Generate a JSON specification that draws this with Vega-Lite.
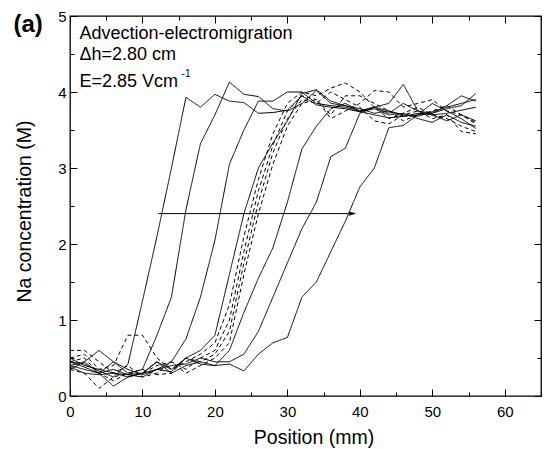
{
 "$schema": "https://vega.github.io/schema/vega-lite/v6.json",
 "width": 471,
 "height": 380,
 "autosize": {"type": "none"},
 "padding": {"left": 70, "top": 16, "right": 4, "bottom": 53},
 "background": "white",
 "config": {
  "view": {"stroke": "black", "strokeWidth": 1.3},
  "font": "Liberation Sans",
  "axis": {"domain": false, "grid": false, "tickColor": "black", "tickWidth": 1, "labelColor": "black", "titleColor": "black", "labelFont": "Liberation Sans", "titleFont": "Liberation Sans", "labelFontSize": 15, "titleFontSize": 19.5, "titleFontWeight": "normal", "labelFlush": false, "labelOverlap": false}
 },
 "resolve": {"axis": {"x": "independent", "y": "independent"}},
 "datasets": {
  "profiles": [
   {"s":"A","k":"A","x":0,"y":0.45},{"s":"A","k":"A","x":2,"y":0.42},{"s":"A","k":"A","x":4,"y":0.33},{"s":"A","k":"A","x":6,"y":0.25},{"s":"A","k":"A","x":8,"y":0.42},{"s":"A","k":"A","x":10,"y":1.25},{"s":"A","k":"A","x":12,"y":2.1},{"s":"A","k":"A","x":14,"y":3.0},{"s":"A","k":"A","x":16,"y":3.93},{"s":"A","k":"A","x":18,"y":3.8},{"s":"A","k":"A","x":20,"y":3.97},{"s":"A","k":"A","x":22,"y":3.88},{"s":"A","k":"A","x":24,"y":3.86},{"s":"A","k":"A","x":26,"y":3.72},{"s":"A","k":"A","x":28,"y":3.73},{"s":"A","k":"A","x":30,"y":3.76},{"s":"A","k":"A","x":32,"y":3.95},{"s":"A","k":"A","x":34,"y":3.83},{"s":"A","k":"A","x":36,"y":3.8},{"s":"A","k":"A","x":38,"y":3.78},{"s":"A","k":"A","x":40,"y":3.74},{"s":"A","k":"A","x":42,"y":3.7},{"s":"A","k":"A","x":44,"y":3.66},{"s":"A","k":"A","x":46,"y":3.68},{"s":"A","k":"A","x":48,"y":3.72},{"s":"A","k":"A","x":50,"y":3.7},{"s":"A","k":"A","x":52,"y":3.72},{"s":"A","k":"A","x":54,"y":3.76},{"s":"A","k":"A","x":56,"y":3.8},
   {"s":"B","k":"A","x":0,"y":0.35},{"s":"B","k":"A","x":2,"y":0.45},{"s":"B","k":"A","x":4,"y":0.6},{"s":"B","k":"A","x":6,"y":0.45},{"s":"B","k":"A","x":8,"y":0.3},{"s":"B","k":"A","x":10,"y":0.35},{"s":"B","k":"A","x":12,"y":0.8},{"s":"B","k":"A","x":14,"y":1.3},{"s":"B","k":"A","x":16,"y":2.45},{"s":"B","k":"A","x":18,"y":3.32},{"s":"B","k":"A","x":20,"y":3.7},{"s":"B","k":"A","x":22,"y":4.13},{"s":"B","k":"A","x":24,"y":3.97},{"s":"B","k":"A","x":26,"y":3.94},{"s":"B","k":"A","x":28,"y":3.78},{"s":"B","k":"A","x":30,"y":3.75},{"s":"B","k":"A","x":32,"y":3.85},{"s":"B","k":"A","x":34,"y":4.02},{"s":"B","k":"A","x":36,"y":3.85},{"s":"B","k":"A","x":38,"y":3.82},{"s":"B","k":"A","x":40,"y":3.78},{"s":"B","k":"A","x":42,"y":3.72},{"s":"B","k":"A","x":44,"y":3.75},{"s":"B","k":"A","x":46,"y":3.7},{"s":"B","k":"A","x":48,"y":3.68},{"s":"B","k":"A","x":50,"y":3.74},{"s":"B","k":"A","x":52,"y":3.8},{"s":"B","k":"A","x":54,"y":3.85},{"s":"B","k":"A","x":56,"y":3.9},
   {"s":"C","k":"A","x":0,"y":0.4},{"s":"C","k":"A","x":2,"y":0.35},{"s":"C","k":"A","x":4,"y":0.3},{"s":"C","k":"A","x":6,"y":0.13},{"s":"C","k":"A","x":8,"y":0.25},{"s":"C","k":"A","x":10,"y":0.3},{"s":"C","k":"A","x":12,"y":0.35},{"s":"C","k":"A","x":14,"y":0.45},{"s":"C","k":"A","x":16,"y":0.75},{"s":"C","k":"A","x":18,"y":1.3},{"s":"C","k":"A","x":20,"y":2.05},{"s":"C","k":"A","x":22,"y":3.05},{"s":"C","k":"A","x":24,"y":3.5},{"s":"C","k":"A","x":26,"y":3.88},{"s":"C","k":"A","x":28,"y":3.88},{"s":"C","k":"A","x":30,"y":4.0},{"s":"C","k":"A","x":32,"y":4.0},{"s":"C","k":"A","x":34,"y":3.85},{"s":"C","k":"A","x":36,"y":3.82},{"s":"C","k":"A","x":38,"y":3.8},{"s":"C","k":"A","x":40,"y":3.74},{"s":"C","k":"A","x":42,"y":3.78},{"s":"C","k":"A","x":44,"y":3.7},{"s":"C","k":"A","x":46,"y":3.72},{"s":"C","k":"A","x":48,"y":3.65},{"s":"C","k":"A","x":50,"y":3.6},{"s":"C","k":"A","x":52,"y":3.7},{"s":"C","k":"A","x":54,"y":3.6},{"s":"C","k":"A","x":56,"y":3.55},
   {"s":"D","k":"A","x":0,"y":0.38},{"s":"D","k":"A","x":2,"y":0.3},{"s":"D","k":"A","x":4,"y":0.28},{"s":"D","k":"A","x":6,"y":0.3},{"s":"D","k":"A","x":8,"y":0.25},{"s":"D","k":"A","x":10,"y":0.3},{"s":"D","k":"A","x":12,"y":0.45},{"s":"D","k":"A","x":14,"y":0.35},{"s":"D","k":"A","x":16,"y":0.5},{"s":"D","k":"A","x":18,"y":0.6},{"s":"D","k":"A","x":20,"y":0.8},{"s":"D","k":"A","x":22,"y":1.6},{"s":"D","k":"A","x":24,"y":2.4},{"s":"D","k":"A","x":26,"y":3.0},{"s":"D","k":"A","x":28,"y":3.33},{"s":"D","k":"A","x":30,"y":3.62},{"s":"D","k":"A","x":32,"y":3.98},{"s":"D","k":"A","x":34,"y":4.03},{"s":"D","k":"A","x":36,"y":3.88},{"s":"D","k":"A","x":38,"y":3.82},{"s":"D","k":"A","x":40,"y":3.75},{"s":"D","k":"A","x":42,"y":3.8},{"s":"D","k":"A","x":44,"y":3.72},{"s":"D","k":"A","x":46,"y":3.85},{"s":"D","k":"A","x":48,"y":3.75},{"s":"D","k":"A","x":50,"y":3.72},{"s":"D","k":"A","x":52,"y":3.78},{"s":"D","k":"A","x":54,"y":3.82},{"s":"D","k":"A","x":56,"y":3.98},
   {"s":"E","k":"A","x":0,"y":0.5},{"s":"E","k":"A","x":2,"y":0.4},{"s":"E","k":"A","x":4,"y":0.35},{"s":"E","k":"A","x":6,"y":0.3},{"s":"E","k":"A","x":8,"y":0.28},{"s":"E","k":"A","x":10,"y":0.3},{"s":"E","k":"A","x":12,"y":0.45},{"s":"E","k":"A","x":14,"y":0.3},{"s":"E","k":"A","x":16,"y":0.4},{"s":"E","k":"A","x":18,"y":0.45},{"s":"E","k":"A","x":20,"y":0.4},{"s":"E","k":"A","x":22,"y":0.6},{"s":"E","k":"A","x":24,"y":1.1},{"s":"E","k":"A","x":26,"y":1.55},{"s":"E","k":"A","x":28,"y":1.95},{"s":"E","k":"A","x":30,"y":2.55},{"s":"E","k":"A","x":32,"y":3.25},{"s":"E","k":"A","x":34,"y":3.55},{"s":"E","k":"A","x":36,"y":3.78},{"s":"E","k":"A","x":38,"y":3.85},{"s":"E","k":"A","x":40,"y":3.75},{"s":"E","k":"A","x":42,"y":3.8},{"s":"E","k":"A","x":44,"y":3.85},{"s":"E","k":"A","x":46,"y":4.1},{"s":"E","k":"A","x":48,"y":3.75},{"s":"E","k":"A","x":50,"y":3.7},{"s":"E","k":"A","x":52,"y":3.62},{"s":"E","k":"A","x":54,"y":3.7},{"s":"E","k":"A","x":56,"y":3.62},
   {"s":"F","k":"A","x":0,"y":0.4},{"s":"F","k":"A","x":2,"y":0.45},{"s":"F","k":"A","x":4,"y":0.3},{"s":"F","k":"A","x":6,"y":0.35},{"s":"F","k":"A","x":8,"y":0.28},{"s":"F","k":"A","x":10,"y":0.25},{"s":"F","k":"A","x":12,"y":0.35},{"s":"F","k":"A","x":14,"y":0.4},{"s":"F","k":"A","x":16,"y":0.42},{"s":"F","k":"A","x":18,"y":0.5},{"s":"F","k":"A","x":20,"y":0.45},{"s":"F","k":"A","x":22,"y":0.45},{"s":"F","k":"A","x":24,"y":0.55},{"s":"F","k":"A","x":26,"y":0.85},{"s":"F","k":"A","x":28,"y":1.3},{"s":"F","k":"A","x":30,"y":1.75},{"s":"F","k":"A","x":32,"y":2.2},{"s":"F","k":"A","x":34,"y":2.55},{"s":"F","k":"A","x":36,"y":3.15},{"s":"F","k":"A","x":38,"y":3.26},{"s":"F","k":"A","x":40,"y":3.72},{"s":"F","k":"A","x":42,"y":3.8},{"s":"F","k":"A","x":44,"y":3.75},{"s":"F","k":"A","x":46,"y":3.68},{"s":"F","k":"A","x":48,"y":3.7},{"s":"F","k":"A","x":50,"y":3.85},{"s":"F","k":"A","x":52,"y":3.75},{"s":"F","k":"A","x":54,"y":3.65},{"s":"F","k":"A","x":56,"y":3.52},
   {"s":"G","k":"A","x":0,"y":0.45},{"s":"G","k":"A","x":2,"y":0.38},{"s":"G","k":"A","x":4,"y":0.3},{"s":"G","k":"A","x":6,"y":0.45},{"s":"G","k":"A","x":8,"y":0.35},{"s":"G","k":"A","x":10,"y":0.28},{"s":"G","k":"A","x":12,"y":0.35},{"s":"G","k":"A","x":14,"y":0.32},{"s":"G","k":"A","x":16,"y":0.5},{"s":"G","k":"A","x":18,"y":0.42},{"s":"G","k":"A","x":20,"y":0.4},{"s":"G","k":"A","x":22,"y":0.42},{"s":"G","k":"A","x":24,"y":0.33},{"s":"G","k":"A","x":26,"y":0.55},{"s":"G","k":"A","x":28,"y":0.7},{"s":"G","k":"A","x":30,"y":0.77},{"s":"G","k":"A","x":32,"y":1.3},{"s":"G","k":"A","x":34,"y":1.5},{"s":"G","k":"A","x":36,"y":1.9},{"s":"G","k":"A","x":38,"y":2.3},{"s":"G","k":"A","x":40,"y":2.75},{"s":"G","k":"A","x":42,"y":3.0},{"s":"G","k":"A","x":44,"y":3.53},{"s":"G","k":"A","x":46,"y":3.56},{"s":"G","k":"A","x":48,"y":3.7},{"s":"G","k":"A","x":50,"y":3.72},{"s":"G","k":"A","x":52,"y":3.82},{"s":"G","k":"A","x":54,"y":3.95},{"s":"G","k":"A","x":56,"y":3.88},
   {"s":"H1","k":"B","x":0,"y":0.5},{"s":"H1","k":"B","x":2,"y":0.55},{"s":"H1","k":"B","x":4,"y":0.35},{"s":"H1","k":"B","x":6,"y":0.4},{"s":"H1","k":"B","x":8,"y":0.8},{"s":"H1","k":"B","x":10,"y":0.8},{"s":"H1","k":"B","x":12,"y":0.5},{"s":"H1","k":"B","x":14,"y":0.35},{"s":"H1","k":"B","x":16,"y":0.45},{"s":"H1","k":"B","x":18,"y":0.55},{"s":"H1","k":"B","x":20,"y":0.7},{"s":"H1","k":"B","x":22,"y":1.2},{"s":"H1","k":"B","x":24,"y":2.1},{"s":"H1","k":"B","x":26,"y":2.85},{"s":"H1","k":"B","x":28,"y":3.45},{"s":"H1","k":"B","x":30,"y":3.85},{"s":"H1","k":"B","x":32,"y":4.0},{"s":"H1","k":"B","x":34,"y":3.95},{"s":"H1","k":"B","x":36,"y":4.05},{"s":"H1","k":"B","x":38,"y":4.12},{"s":"H1","k":"B","x":40,"y":4.0},{"s":"H1","k":"B","x":42,"y":3.8},{"s":"H1","k":"B","x":44,"y":3.65},{"s":"H1","k":"B","x":46,"y":3.72},{"s":"H1","k":"B","x":48,"y":3.8},{"s":"H1","k":"B","x":50,"y":3.7},{"s":"H1","k":"B","x":52,"y":3.65},{"s":"H1","k":"B","x":54,"y":3.55},{"s":"H1","k":"B","x":56,"y":3.48},
   {"s":"H2","k":"B","x":0,"y":0.6},{"s":"H2","k":"B","x":2,"y":0.6},{"s":"H2","k":"B","x":4,"y":0.45},{"s":"H2","k":"B","x":6,"y":0.3},{"s":"H2","k":"B","x":8,"y":0.4},{"s":"H2","k":"B","x":10,"y":0.25},{"s":"H2","k":"B","x":12,"y":0.3},{"s":"H2","k":"B","x":14,"y":0.45},{"s":"H2","k":"B","x":16,"y":0.35},{"s":"H2","k":"B","x":18,"y":0.5},{"s":"H2","k":"B","x":20,"y":0.6},{"s":"H2","k":"B","x":22,"y":1.0},{"s":"H2","k":"B","x":24,"y":1.9},{"s":"H2","k":"B","x":26,"y":2.7},{"s":"H2","k":"B","x":28,"y":3.3},{"s":"H2","k":"B","x":30,"y":3.75},{"s":"H2","k":"B","x":32,"y":3.95},{"s":"H2","k":"B","x":34,"y":3.9},{"s":"H2","k":"B","x":36,"y":3.65},{"s":"H2","k":"B","x":38,"y":3.75},{"s":"H2","k":"B","x":40,"y":3.85},{"s":"H2","k":"B","x":42,"y":4.02},{"s":"H2","k":"B","x":44,"y":4.0},{"s":"H2","k":"B","x":46,"y":3.8},{"s":"H2","k":"B","x":48,"y":3.85},{"s":"H2","k":"B","x":50,"y":3.9},{"s":"H2","k":"B","x":52,"y":3.75},{"s":"H2","k":"B","x":54,"y":3.7},{"s":"H2","k":"B","x":56,"y":3.6},
   {"s":"H3","k":"B","x":0,"y":0.35},{"s":"H3","k":"B","x":2,"y":0.3},{"s":"H3","k":"B","x":4,"y":0.1},{"s":"H3","k":"B","x":6,"y":0.25},{"s":"H3","k":"B","x":8,"y":0.3},{"s":"H3","k":"B","x":10,"y":0.35},{"s":"H3","k":"B","x":12,"y":0.28},{"s":"H3","k":"B","x":14,"y":0.3},{"s":"H3","k":"B","x":16,"y":0.5},{"s":"H3","k":"B","x":18,"y":0.45},{"s":"H3","k":"B","x":20,"y":0.55},{"s":"H3","k":"B","x":22,"y":0.85},{"s":"H3","k":"B","x":24,"y":1.75},{"s":"H3","k":"B","x":26,"y":2.55},{"s":"H3","k":"B","x":28,"y":3.2},{"s":"H3","k":"B","x":30,"y":3.65},{"s":"H3","k":"B","x":32,"y":3.9},{"s":"H3","k":"B","x":34,"y":3.85},{"s":"H3","k":"B","x":36,"y":4.0},{"s":"H3","k":"B","x":38,"y":3.9},{"s":"H3","k":"B","x":40,"y":3.8},{"s":"H3","k":"B","x":42,"y":3.62},{"s":"H3","k":"B","x":44,"y":3.58},{"s":"H3","k":"B","x":46,"y":3.7},{"s":"H3","k":"B","x":48,"y":3.75},{"s":"H3","k":"B","x":50,"y":3.65},{"s":"H3","k":"B","x":52,"y":3.7},{"s":"H3","k":"B","x":54,"y":3.48},{"s":"H3","k":"B","x":56,"y":3.45},
   {"s":"H4","k":"B","x":0,"y":0.45},{"s":"H4","k":"B","x":2,"y":0.5},{"s":"H4","k":"B","x":4,"y":0.3},{"s":"H4","k":"B","x":6,"y":0.2},{"s":"H4","k":"B","x":8,"y":0.3},{"s":"H4","k":"B","x":10,"y":0.3},{"s":"H4","k":"B","x":12,"y":0.4},{"s":"H4","k":"B","x":14,"y":0.45},{"s":"H4","k":"B","x":16,"y":0.3},{"s":"H4","k":"B","x":18,"y":0.4},{"s":"H4","k":"B","x":20,"y":0.5},{"s":"H4","k":"B","x":22,"y":0.7},{"s":"H4","k":"B","x":24,"y":1.6},{"s":"H4","k":"B","x":26,"y":2.4},{"s":"H4","k":"B","x":28,"y":3.05},{"s":"H4","k":"B","x":30,"y":3.55},{"s":"H4","k":"B","x":32,"y":3.85},{"s":"H4","k":"B","x":34,"y":3.9},{"s":"H4","k":"B","x":36,"y":3.7},{"s":"H4","k":"B","x":38,"y":3.95},{"s":"H4","k":"B","x":40,"y":3.95},{"s":"H4","k":"B","x":42,"y":3.85},{"s":"H4","k":"B","x":44,"y":3.75},{"s":"H4","k":"B","x":46,"y":3.62},{"s":"H4","k":"B","x":48,"y":3.7},{"s":"H4","k":"B","x":50,"y":3.75},{"s":"H4","k":"B","x":52,"y":3.82},{"s":"H4","k":"B","x":54,"y":3.7},{"s":"H4","k":"B","x":56,"y":3.58}
  ]
 },
 "layer": [
  {
   "data": {"name": "profiles"},
   "mark": {"type": "line", "color": "black", "strokeWidth": 1},
   "encoding": {
    "x": {"field": "x", "type": "quantitative", "scale": {"domain": [0, 65], "nice": false, "zero": false},
     "axis": {"orient": "bottom", "values": [0,5,10,15,20,25,30,35,40,45,50,55,60,65], "labelExpr": "datum.value % 10 === 0 ? format(datum.value, 'd') : ''", "tickSize": {"condition": {"test": "datum.value % 10 === 0", "value": -7}, "value": -4}, "labelPadding": 15, "labelBaseline": "top", "title": "Position (mm)", "titleX": 243.5, "titleY": 47.5, "titleBaseline": "alphabetic", "titleAlign": "center"}},
    "y": {"field": "y", "type": "quantitative", "scale": {"domain": [0, 5], "nice": false, "zero": false},
     "axis": {"orient": "left", "values": [0,0.5,1,1.5,2,2.5,3,3.5,4,4.5,5], "labelExpr": "datum.value % 1 === 0 ? format(datum.value, 'd') : ''", "tickSize": {"condition": {"test": "datum.value % 1 === 0", "value": -7}, "value": -4}, "labelPadding": 11, "title": "Na concentration (M)", "titleX": -39.5, "titleY": 195, "titleBaseline": "alphabetic", "titleAlign": "center", "titleAngle": -90}},
    "detail": {"field": "s", "type": "nominal"},
    "strokeDash": {"field": "k", "type": "nominal", "scale": {"domain": ["A", "B"], "range": [[1, 0], [4, 3]]}, "legend": null}
   }
  },
  {
   "data": {"values": [{}]},
   "mark": {"type": "rule", "color": "black", "strokeWidth": 1},
   "encoding": {
    "x": {"datum": 12.2, "type": "quantitative",
     "axis": {"orient": "top", "values": [0,5,10,15,20,25,30,35,40,45,50,55,60,65], "labels": false, "title": null, "tickSize": {"condition": {"test": "datum.value % 10 === 0", "value": -7}, "value": -4}}},
    "x2": {"datum": 39.0},
    "y": {"datum": 2.4, "type": "quantitative",
     "axis": {"orient": "right", "values": [0,0.5,1,1.5,2,2.5,3,3.5,4,4.5,5], "labels": false, "title": null, "tickSize": {"condition": {"test": "datum.value % 1 === 0", "value": -7}, "value": -4}}}
   }
  },
  {
   "data": {"values": [{}]},
   "mark": {"type": "point", "shape": "M0,0L-1,-0.3L-0.75,0L-1,0.3Z", "size": 256, "filled": true, "color": "black", "opacity": 1, "strokeWidth": 0.5},
   "encoding": {
    "x": {"datum": 39.5, "type": "quantitative", "axis": null},
    "y": {"datum": 2.4, "type": "quantitative", "axis": null}
   }
  },
  {
   "data": {"values": [{}]},
   "mark": {"type": "text", "align": "left", "baseline": "alphabetic", "fontSize": 18, "font": "Liberation Sans", "color": "black", "text": "Advection-electromigration"},
   "encoding": {
    "x": {"datum": 1.3, "type": "quantitative", "axis": null},
    "y": {"datum": 4.7, "type": "quantitative", "axis": null}
   }
  },
  {
   "data": {"values": [{}]},
   "mark": {"type": "text", "align": "left", "baseline": "alphabetic", "fontSize": 18, "font": "Liberation Sans", "color": "black", "text": "Δh=2.80 cm"},
   "encoding": {
    "x": {"datum": 1.3, "type": "quantitative", "axis": null},
    "y": {"datum": 4.42, "type": "quantitative", "axis": null}
   }
  },
  {
   "data": {"values": [{}]},
   "mark": {"type": "text", "align": "left", "baseline": "alphabetic", "fontSize": 18, "font": "Liberation Sans", "color": "black", "text": "E=2.85 Vcm"},
   "encoding": {
    "x": {"datum": 1.3, "type": "quantitative", "axis": null},
    "y": {"datum": 4.07, "type": "quantitative", "axis": null}
   }
  },
  {
   "data": {"values": [{}]},
   "mark": {"type": "text", "align": "left", "baseline": "alphabetic", "fontSize": 10, "font": "Liberation Sans", "color": "black", "text": "-1"},
   "encoding": {
    "x": {"datum": 15.4, "type": "quantitative", "axis": null},
    "y": {"datum": 4.2, "type": "quantitative", "axis": null}
   }
  },
  {
   "data": {"values": [{}]},
   "mark": {"type": "text", "align": "left", "baseline": "alphabetic", "fontSize": 24, "fontWeight": "bold", "font": "Liberation Sans", "color": "black", "text": "(a)"},
   "encoding": {
    "x": {"datum": -7.8, "type": "quantitative", "axis": null},
    "y": {"datum": 4.79, "type": "quantitative", "axis": null}
   }
  }
 ]
}
